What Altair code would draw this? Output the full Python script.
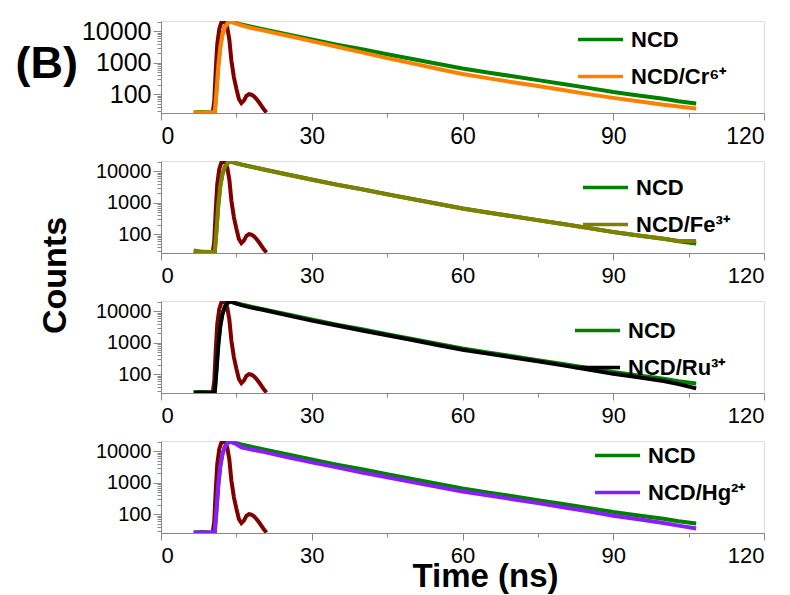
import altair as alt
import pandas as pd

# ---- data (time in ns, counts) ----
T = [6.5, 8, 10, 10.7, 11.0, 11.4, 11.8, 12.2, 12.7, 13.2, 13.8, 15, 16, 18, 20, 25, 30, 35, 40, 45,
     50, 55, 60, 65, 70, 75, 80, 85, 90, 95, 100, 103, 106.5]
NCD = [26, 27, 26, 28, 120, 900, 3500, 8000, 14000, 18500, 20900, 18200, 16600, 14100, 12000, 8100,
       5500, 3800, 2700, 1860, 1320, 930, 660, 490, 370, 280, 210, 158, 117, 91, 71, 59, 50]
CR = [26, 26, 26, 27, 90, 700, 3000, 7500, 13500, 18000, 20500, 17800, 15500, 12900, 11000, 7400,
      4900, 3240, 2140, 1410, 955, 645, 437, 324, 240, 182, 135, 100, 76, 59, 46, 40, 35]
FE = [30, 28, 27, 28, 100, 800, 3300, 7800, 13800, 18300, 20800, 18100, 16500, 14000, 11900, 8000,
      5450, 3780, 2680, 1850, 1310, 925, 655, 487, 368, 279, 209, 157, 116, 90, 71, 60, 60]
RU = [26, 26, 26, 27, 110, 850, 3400, 7900, 13900, 18400, 20800, 17700, 15900, 13200, 11500, 7600,
      5100, 3550, 2450, 1740, 1230, 850, 600, 450, 340, 257, 190, 141, 102, 79, 60, 48, 35]
HG = [26, 26, 26, 27, 100, 800, 3300, 7800, 13800, 18300, 20600, 17000, 13500, 11500, 10000, 6600,
      4470, 3090, 2140, 1510, 1050, 740, 525, 400, 300, 224, 166, 123, 89, 69, 52, 43, 35]

T_IRF = [10.3, 10.6, 10.9, 11.2, 11.6, 12.0, 12.4, 12.8, 13.2, 13.6, 14.0, 14.5, 15.0, 15.5, 16.0,
         16.5, 17.0, 17.5, 18.0, 18.5, 19.0, 19.5, 20.0, 20.5, 21.0]
IRF = [26, 60, 600, 4000, 12000, 19000, 21000, 18500, 13000, 5500, 1200, 350, 150, 70, 52, 62, 88,
       100, 96, 85, 70, 55, 42, 32, 26]

SAMPLES = ["NCD/Cr⁶⁺", "NCD/Fe³⁺", "NCD/Ru³⁺", "NCD/Hg²⁺"]
SAMPLE_VALUES = [CR, FE, RU, HG]
SAMPLE_COLORS = ["#ff8000", "#808000", "#000000", "#8a1cff"]
NCD_COLOR = "#008000"
IRF_COLOR = "#800000"

X_TICKS = [0, 15, 30, 45, 60, 75, 90, 105, 120]
Y_TICKS = [30, 40, 50, 60, 70, 80, 90, 100, 200, 300, 400, 500, 600, 700, 800, 900,
           1000, 2000, 3000, 4000, 5000, 6000, 7000, 8000, 9000, 10000, 20000]

FONT = "Liberation Sans"
W, H = 603, 92
LEG_X = [415, 420, 412, 432]
LEG_Y = [-6, 2, 5, -10]


def panel(i):
    name = SAMPLES[i]
    irf = pd.DataFrame({"t": T_IRF, "v": IRF})
    ncd = pd.DataFrame({"t": T, "v": NCD, "s": "NCD"})
    smp = pd.DataFrame({"t": T, "v": SAMPLE_VALUES[i], "s": name})

    lab_x = 23 if i == 0 else 22
    lab_y = 25 if i == 0 else 20

    xaxis = dict(values=X_TICKS, labelExpr="datum.value % 30 == 0 ? datum.label : ''",
                 tickSize={"condition": {"test": "datum.value % 30 == 0", "value": 7}, "value": 4},
                 labelFontSize=lab_x, labelPadding=5, grid=False)
    if i == 3:
        xaxis.update(title="Time (ns)", titleFontSize=33, titleX=324, titleY=53,
                     titleBaseline="alphabetic", titleAlign="center")
    else:
        xaxis.update(title=None)

    yaxis = dict(values=Y_TICKS, format="d",
                 labelExpr="indexof([100, 1000, 10000], datum.value) >= 0 ? datum.label : ''",
                 tickSize={"condition": {"test": "indexof([100, 1000, 10000], datum.value) >= 0",
                                         "value": 8}, "value": 4},
                 labelFontSize=lab_y, labelPadding=2, grid=False)
    if i == 0:
        yaxis.update(title="(B)", titleAngle=0, titleFontSize=45, titleX=-146, titleY=56,
                     titleAlign="left", titleBaseline="alphabetic")
    elif i == 1:
        yaxis.update(title="Counts", titleFontSize=34, titleX=-89, titleY=114,
                     titleAlign="center", titleBaseline="bottom", titleAngle=270)
    else:
        yaxis.update(title=None)

    x = alt.X("t:Q", scale=alt.Scale(domain=[0, 120], nice=False), axis=alt.Axis(**xaxis))
    y = alt.Y("v:Q", scale=alt.Scale(type="log", domain=[25, 21500], nice=False),
              axis=alt.Axis(**yaxis))
    color_scale = alt.Scale(domain=["NCD", name], range=[NCD_COLOR, SAMPLE_COLORS[i]])
    legend = alt.Legend(title=None, orient="none", legendX=LEG_X[i], legendY=LEG_Y[i],
                        symbolType="stroke", symbolSize=2025, symbolStrokeWidth=3.5,
                        labelFontSize=22, labelFont=FONT, labelFontWeight="bold",
                        labelColor="black", labelOffset=6, rowPadding=1, padding=0, labelLimit=0)

    l_irf = alt.Chart(irf).mark_line(color=IRF_COLOR, strokeWidth=4, clip=True).encode(x=x, y=y)
    l_ncd = alt.Chart(ncd).mark_line(strokeWidth=4, clip=True).encode(
        x=x, y=y, color=alt.Color("s:N", scale=color_scale, legend=legend))
    l_smp = alt.Chart(smp).mark_line(strokeWidth=4, clip=True).encode(
        x=x, y=y, color=alt.Color("s:N", scale=color_scale, legend=legend))
    return alt.layer(l_irf, l_ncd, l_smp).properties(width=W, height=H)


chart = alt.vconcat(*[panel(i) for i in range(4)], spacing=48, bounds="flush").resolve_scale(
    color="independent").resolve_legend(color="independent").properties(
    padding={"left": 6, "top": 6, "right": 5, "bottom": 0}
).configure_view(stroke="black", strokeWidth=2).configure_axis(
    labelFont=FONT, labelFontWeight="bold", titleFont=FONT, titleFontWeight="bold",
    labelColor="black", titleColor="black", domainColor="black", domainWidth=2,
    tickColor="black", tickWidth=2
).configure(background="white")

chart.save("out.html", embed_options={"renderer": "svg", "actions": False})
